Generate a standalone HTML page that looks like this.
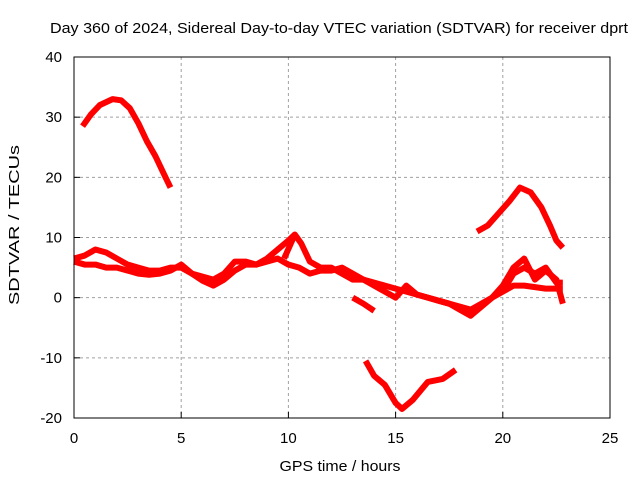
<!DOCTYPE html>
<html><head><meta charset="utf-8"><style>
body{margin:0;background:#fff}
svg{display:block;font-family:"Liberation Sans",sans-serif}
</style></head><body>
<svg id="chart" width="640" height="480">
<text x="339" y="33" text-anchor="middle" font-size="15" textLength="578" lengthAdjust="spacingAndGlyphs">Day 360 of 2024, Sidereal Day-to-day VTEC variation (SDTVAR) for receiver dprt</text>
<text x="340" y="471" text-anchor="middle" font-size="15" textLength="121" lengthAdjust="spacingAndGlyphs">GPS time / hours</text>
<text transform="translate(19,225) rotate(-90)" text-anchor="middle" font-size="15" textLength="160" lengthAdjust="spacingAndGlyphs">SDTVAR / TECUs</text>
<g id="grid"></g><g id="series"></g>
<rect x="74" y="57" width="536" height="361" fill="none" stroke="#000"/>
<g id="ticks"></g>
</svg>
<script>
const xTicks=[0,5,10,15,20,25];
const yTicks=[-20,-10,0,10,20,30,40];
const arcA=[[0.4,28.5],[0.8,30.5],[1.2,32],[1.8,33],[2.2,32.8],[2.6,31.5],[3.0,29],[3.4,26],[3.8,23.5],[4.2,20.5],[4.5,18.3]];
const arcB=[[0,6],[0.5,5.5],[1,5.5],[1.5,5],[2,5],[2.5,4.5],[3,4],[3.5,3.8],[4,4],[4.5,4.5],[5,5.5],[5.5,4],[6,2.8],[6.5,2],[7,3],[7.5,4.5],[8,5.5],[8.5,5.5],[9,6],[9.5,6.5],[10,5.5],[10.5,5],[11,4],[11.5,4.5],[12,4.5],[12.5,5],[13,4],[13.5,3],[14,2.5],[14.5,2],[15,1.5],[15.5,1],[16,0.5],[16.5,0],[17,-0.5],[17.5,-1],[18,-1.5],[18.5,-2],[19,-1],[19.5,0],[20,1],[20.5,2],[21,2],[22,1.5],[22.8,1.5]];
const arcC=[[0,6.5],[0.5,7],[1,8],[1.5,7.5],[2,6.5],[2.5,5.5],[3,5],[3.5,4.5],[4,4.5],[4.5,5],[5,5],[5.5,4],[6,3.5],[6.5,3],[7,4],[7.5,6],[8,6],[8.5,5.5],[9,6.5],[9.5,8],[10,9.5],[10.3,10.5],[10.6,9],[11,6],[11.5,5],[12,5],[12.5,4],[13,3],[13.5,3],[14,2],[14.5,1],[15,0],[15.5,2],[16,0.5],[16.5,0],[17,-0.5],[17.5,-1],[18,-2],[18.5,-3],[19,-1.5],[19.5,0],[20,2],[20.5,5],[21,6.5],[21.5,3],[22,4.5],[22.5,3],[22.8,-1]];
const arcD=[[20,1],[20.5,4],[21,5],[21.5,4],[22,5],[22.5,2.5],[22.8,2.5]];
const arcE=[[13,0],[13.5,-1],[14,-2.2]];
const arcF=[[13.6,-10.5],[14,-13],[14.5,-14.5],[15,-17.5],[15.3,-18.5],[15.8,-17],[16.5,-14],[17.2,-13.5],[17.8,-12]];
const arcG=[[18.8,11],[19.3,12],[19.8,14],[20.3,16],[20.8,18.3],[21.3,17.5],[21.8,15],[22.2,12],[22.5,9.5],[22.8,8.3]];
const arcH=[[9.8,6.5],[10.3,10.5]];
const seriesList=[arcA,arcB,arcC,arcD,arcE,arcF,arcG,arcH];
const NS='http://www.w3.org/2000/svg';
const X=v=>74+v*(536/25), Y=v=>418-(v+20)*(361/60);
const grid=document.getElementById('grid'),ticks=document.getElementById('ticks'),ser=document.getElementById('series');
function mk(t,a,p){const e=document.createElementNS(NS,t);for(const k in a)e.setAttribute(k,a[k]);p.appendChild(e);return e;}
xTicks.forEach(v=>{
 if(v>0&&v<25){const g=mk('line',{x1:X(v),x2:X(v),y1:57,y2:418,stroke:'#a0a0a0','stroke-dasharray':'3,3'},grid);
 
 }
 const t=mk('line',{x1:X(v),x2:X(v),y1:418,y2:412,stroke:'#000'},ticks);
 
 
 const l=mk('text',{x:X(v),y:443,'text-anchor':'middle','font-size':15},ticks);l.textContent=v;
 
 
});
yTicks.forEach(v=>{
 if(v>-20&&v<40){const g=mk('line',{x1:74,x2:610,y1:Y(v),y2:Y(v),stroke:'#a0a0a0','stroke-dasharray':'3,3'},grid);
 
 }
 const t=mk('line',{x1:74,x2:80,y1:Y(v),y2:Y(v),stroke:'#000'},ticks);
 
 
 const l=mk('text',{x:62,y:Y(v)+5,'text-anchor':'end','font-size':15},ticks);l.textContent=v;
 
 
});
seriesList.forEach(s=>{
 const p=mk('polyline',{points:s.map(d=>X(d[0])+','+Y(d[1])).join(' '),fill:'none',stroke:'#ff0000','stroke-width':6,'stroke-linejoin':'round'},ser);
 
 
});
</script>
</body></html>
